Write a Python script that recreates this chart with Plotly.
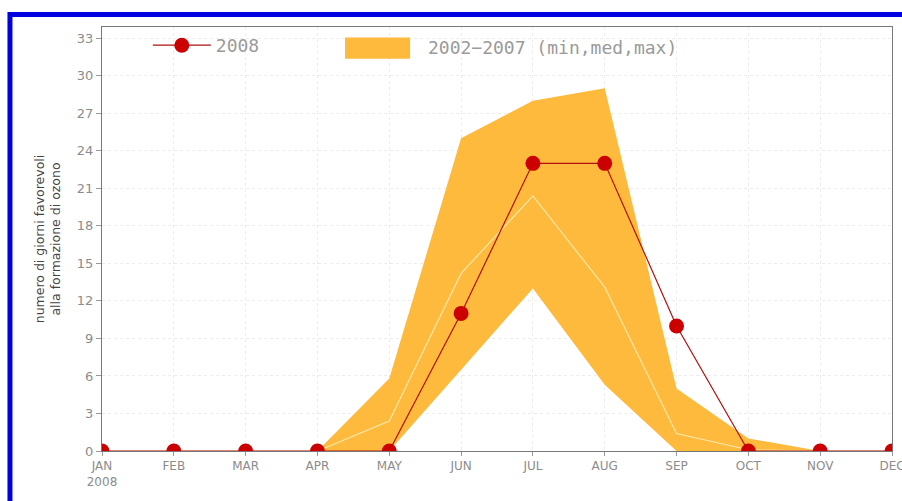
import plotly.graph_objects as go

# months on the x axis
months = ["JAN", "FEB", "MAR", "APR", "MAY", "JUN", "JUL", "AUG", "SEP", "OCT", "NOV", "DEC"]
month_labels = ["JAN<br>2008"] + months[1:]

# favourable days for ozone formation, 2008
days_2008 = [0, 0, 0, 0, 0, 11, 23, 23, 10, 0, 0, 0]

# 2002-2007 statistics
days_min = [0, 0, 0, 0, 0, 6.5, 13, 5.3, 0, 0, 0, 0]
days_med = [0, 0, 0, 0, 2.4, 14.2, 20.4, 13.1, 1.4, 0.1, 0, 0]
days_max = [0, 0, 0, 0, 5.8, 25, 28, 29, 5, 1, 0, 0]

yticks = list(range(0, 34, 3))

band_label = "2002\u22122007 (min,med,max)"

orange = "#FDBA3C"
grey = "#8c8c8c"

fig = go.Figure()

# band: min -> max
fig.add_trace(go.Scatter(x=months, y=days_min, mode="lines", line=dict(width=0, color=orange),
                         showlegend=False, hoverinfo="skip"))
fig.add_trace(go.Scatter(x=months, y=days_max, mode="lines", line=dict(width=0, color=orange),
                         fill="tonexty", fillcolor=orange, name=band_label, showlegend=False))
# median
fig.add_trace(go.Scatter(x=months, y=days_med, mode="lines", line=dict(width=1.2, color="#FFE8A8"),
                         showlegend=False))
# 2008
fig.add_trace(go.Scatter(x=months, y=days_2008, mode="lines+markers", name="2008",
                         line=dict(width=1.2, color="#B01010"),
                         marker=dict(size=15, color="#CC0000", line=dict(width=0))))

fig.update_layout(
    width=902, height=501,
    margin=dict(l=102, r=10, t=27, b=50),
    paper_bgcolor="white", plot_bgcolor="white",
    font=dict(family="DejaVu Sans", color=grey, size=12),
    legend=dict(orientation="h", x=0.058, y=1.0, xanchor="left", yanchor="top",
                font=dict(family="DejaVu Sans Mono", size=18, color="#9a9a9a"),
                bgcolor="rgba(0,0,0,0)", itemwidth=58),
    shapes=[
        # band legend key
        dict(type="rect", xref="paper", yref="paper", x0=0.3076, x1=0.39, y0=0.925, y1=0.975,
             fillcolor=orange, line=dict(width=0)),
        # blue frame
        dict(type="rect", xref="paper", yref="paper",
             x0=-0.1165, x1=1.05, y0=-0.3, y1=1.0295,
             line=dict(color="#0000E0", width=5), layer="above"),
    ],
    annotations=[dict(text=band_label, xref="paper", yref="paper", x=0.41, y=0.952,
                      xanchor="left", yanchor="middle", showarrow=False,
                      font=dict(family="DejaVu Sans Mono", size=18, color="#9a9a9a"))],
)

fig.update_xaxes(
    type="category", range=[0, 11], automargin=False,
    tickmode="array", tickvals=months, ticktext=month_labels,
    showline=True, linecolor="#777", linewidth=1, mirror=True,
    ticks="outside", ticklen=4, tickcolor="#999",
    showgrid=True, gridcolor="#ececec", griddash="dot",
    tickfont=dict(size=12, color=grey),
)
fig.update_yaxes(
    range=[0, 33.9], tickvals=yticks, automargin=False,
    showline=True, linecolor="#777", linewidth=1, mirror=True,
    ticks="outside", ticklen=5, tickcolor="#999",
    showgrid=True, gridcolor="#ececec", griddash="dot",
    tickfont=dict(size=13, color=grey),
    zeroline=False,
    title=dict(text="numero di giorni favorevoli<br>alla formazione di ozono",
               font=dict(size=12.5, color="#444"), standoff=13),
)

fig.write_html("out.html", config={"displayModeBar": False},
               post_script="document.body.style.margin='0';")
